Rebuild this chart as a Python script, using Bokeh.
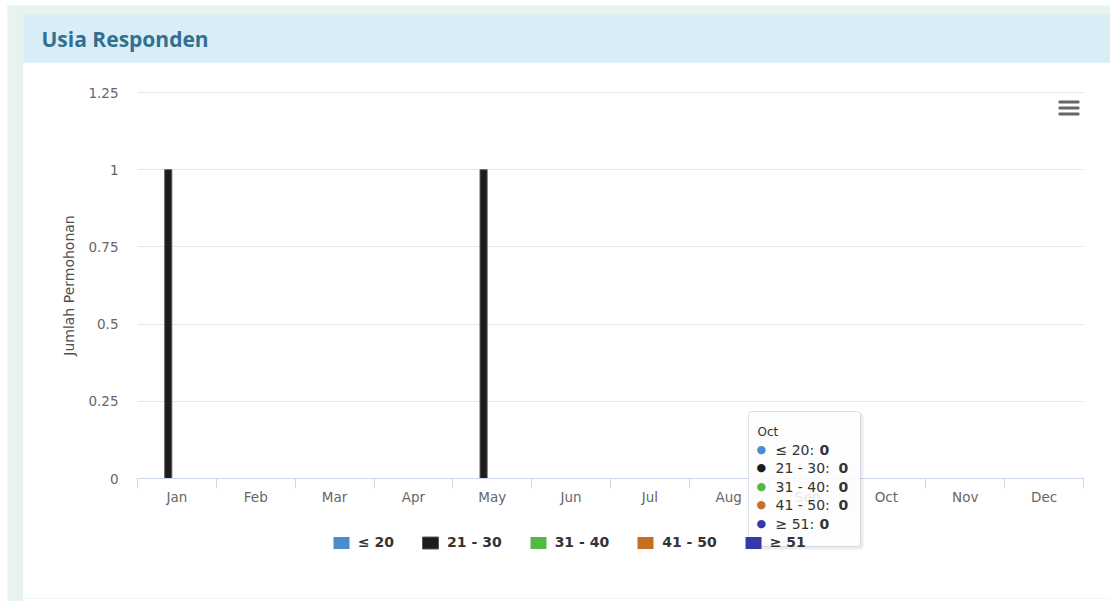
from bokeh.plotting import figure
from bokeh.models import (Range1d, FixedTicker, BoxAnnotation, Label, Legend, LegendItem)
from bokeh.embed import file_html
from bokeh.resources import INLINE
import numpy as np

# ---------------- data ----------------
months = ["Jan", "Feb", "Mar", "Apr", "May", "Jun", "Jul", "Aug", "Sep", "Oct", "Nov", "Dec"]
series_names = ["≤ 20", "21 - 30", "31 - 40", "41 - 50", "≥ 51"]
age_le20 = [0, 0, 0, 0, 0, 0, 0, 0, 0, 0, 0, 0]
age_21_30 = [1, 0, 0, 0, 1, 0, 0, 0, 0, 0, 0, 0]
age_31_40 = [0, 0, 0, 0, 0, 0, 0, 0, 0, 0, 0, 0]
age_41_50 = [0, 0, 0, 0, 0, 0, 0, 0, 0, 0, 0, 0]
age_ge51 = [0, 0, 0, 0, 0, 0, 0, 0, 0, 0, 0, 0]
series_values = [age_le20, age_21_30, age_31_40, age_41_50, age_ge51]
y_ticks = [0, 0.25, 0.5, 0.75, 1, 1.25]
y_tick_labels = ["0", "0.25", "0.5", "0.75", "1", "1.25"]
title_text = "Usia Responden"
y_title = "Jumlah Permohonan"
tooltip_month = "Oct"

colors = ["#4a8ccc", "#1c1c1c", "#52b848", "#c96d22", "#3539a8"]
edge_colors = ["#3a70a8", "#5a5a5a", "#3f9a38", "#a5561a", "#292c88"]
FONT = "DejaVu Sans"
TITLE_FONT = "Open Sans"

# ---------------- layout geometry (pixels) ----------------
W, H = 1110, 601
PL, PR, PT, PB = 137, 1083, 92, 478          # plot area in page pixels
n = len(months)
ymax = y_ticks[-1]
xs = (PR - PL) / n
ys = (PB - PT) / ymax
x_range = Range1d(-PL / xs, n + (W - PR) / xs)
y_range = Range1d(-(H - PB) / ys, ymax + PT / ys)

p = figure(width=W, height=H, x_range=x_range, y_range=y_range,
           output_backend="svg", toolbar_location=None,
           min_border_left=0, min_border_right=0, min_border_top=0, min_border_bottom=0)
p.border_fill_color = "white"
p.background_fill_color = "white"
p.outline_line_color = None

def box(L, R, T, B, **kw):
    b = BoxAnnotation(left=L, right=R, top=H - T, bottom=H - B,
                      left_units="screen", right_units="screen",
                      top_units="screen", bottom_units="screen", **kw)
    p.add_layout(b)
    return b

def label(X, Y, text, font=FONT, **kw):
    lb = Label(x=X, y=H - Y, x_units="screen", y_units="screen", text=text,
               text_font=font, text_baseline="middle", **kw)
    p.add_layout(lb)
    return lb

# ---------------- axes ----------------
xt = FixedTicker(ticks=[i + 0.5 for i in range(n)], minor_ticks=list(range(n + 1)))
p.xaxis.ticker = xt
p.xaxis.fixed_location = 0
p.xaxis.bounds = (0, n)
p.xaxis.major_label_overrides = {i + 0.5: m for i, m in enumerate(months)}
p.xaxis.major_tick_line_color = None
p.xaxis.major_tick_out = 0
p.xaxis.major_tick_in = 0
p.xaxis.minor_tick_line_color = "#ccd6eb"
p.xaxis.minor_tick_out = 10
p.xaxis.minor_tick_in = 0
p.xaxis.axis_line_color = "#ccd6eb"
p.xaxis.major_label_standoff = 0
p.xaxis.major_label_text_font = FONT
p.xaxis.major_label_text_font_size = "13.5px"
p.xaxis.major_label_text_color = "#666666"
p.xgrid.grid_line_color = None

yt = FixedTicker(ticks=y_ticks, minor_ticks=[])
p.yaxis.ticker = yt
p.yaxis.fixed_location = 0
p.yaxis.bounds = (0, ymax)
p.yaxis.major_label_overrides = {v: s for v, s in zip(y_ticks, y_tick_labels)}
p.yaxis.axis_line_color = None
p.yaxis.major_tick_line_color = None
p.yaxis.minor_tick_line_color = None
p.yaxis.major_tick_out = 0
p.yaxis.major_label_standoff = 19
p.yaxis.major_label_text_font = FONT
p.yaxis.major_label_text_font_size = "13.5px"
p.yaxis.major_label_text_color = "#666666"
p.yaxis.axis_label = y_title
p.yaxis.axis_label_text_font = FONT
p.yaxis.axis_label_text_font_size = "14px"
p.yaxis.axis_label_text_font_style = "normal"
p.yaxis.axis_label_text_color = "#4d4d4d"
p.yaxis.axis_label_standoff = 8
p.ygrid.ticker = yt
p.ygrid.grid_line_color = "#e6e6e6"
p.ygrid.cross_bounds = (0, n)

# ---------------- bars ----------------
base = np.arange(n) + 0.5
renderers = []
for i, (name, vals, c, ec) in enumerate(zip(series_names, series_values, colors, edge_colors)):
    r = p.vbar(x=base + (i - 2) * 0.11, top=vals, width=0.09, bottom=0,
               fill_color=c, line_color=ec, line_width=1,
               line_alpha=[1.0 if v > 0 else 0.0 for v in vals])
    renderers.append(r)

# ---------------- page / panel decoration ----------------
box(7, 22, 5, 601, fill_color="#e8f2ee", fill_alpha=1, line_color=None)
box(7, 1110, 5, 13, fill_color="#e8f2ee", fill_alpha=1, line_color=None)
box(22, 1130, 13, 598, fill_alpha=0, line_color="#bfe3e8", line_width=1)
box(23, 1130, 14, 62, fill_color="#d9edf7", fill_alpha=1, line_color="#c3e3ee", line_width=1)
label(41, 38, title_text, font=TITLE_FONT, text_font_size="21px", text_font_style="bold",
      text_color="#31708f")

# hamburger menu icon
for t in (100, 106, 112):
    box(1058, 1079, t, t + 3, fill_color="#666666", fill_alpha=1, line_color=None, border_radius=1)

legend = Legend(items=[LegendItem(label=nm, renderers=[r]) for nm, r in zip(series_names, renderers)],
                orientation="horizontal", location=(331, H - 550),
                glyph_width=20, glyph_height=15, label_standoff=7, spacing=26,
                padding=0, margin=0, border_line_color=None, background_fill_alpha=0,
                label_text_font=FONT, label_text_font_style="bold",
                label_text_font_size="14px", label_text_color="#333333")
p.add_layout(legend)

# ---------------- tooltip (as shown in the reference) ----------------
mi = months.index(tooltip_month)
box(750, 863, 413, 549, fill_color="black", fill_alpha=0.07, line_color=None, border_radius=3)
box(748, 860, 411, 546, fill_color="white", fill_alpha=0.85, line_color="#7f9bbd",
    line_width=1, border_radius=3)
label(757, 431, tooltip_month, text_font_size="12px", text_color="#333333")
row_y = [449, 467, 486, 504, 523]
val_x = [819, 838, 838, 838, 819]
for nm, vals, c, ry, vx in zip(series_names, series_values, colors, row_y, val_x):
    label(756, ry, "●", text_font_size="11px", text_color=c)
    label(775, ry, nm + ":", text_font_size="14px", text_color="#333333")
    label(vx, ry, str(vals[mi]), text_font_size="14px", text_font_style="bold", text_color="#333333")

open("out.html", "w").write(file_html(p, INLINE))
